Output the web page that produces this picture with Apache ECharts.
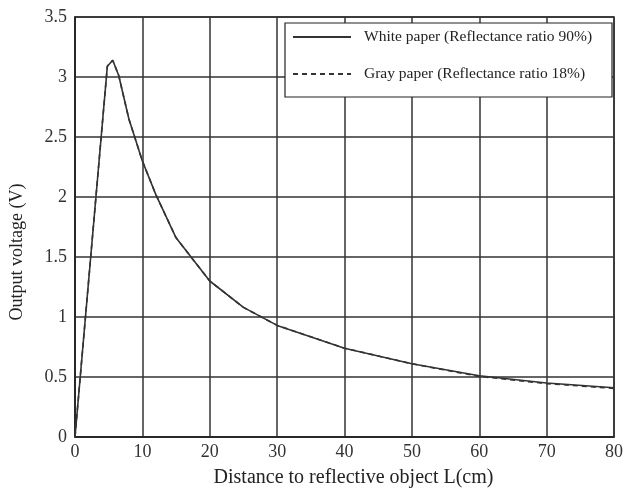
<!DOCTYPE html>
<html>
<head>
<meta charset="utf-8">
<script src="https://cdn.jsdelivr.net/npm/echarts@6/dist/echarts.min.js"></script>
<style>html,body{margin:0;padding:0;background:#fff;}#c{width:626px;height:493px;}</style>
</head>
<body>
<div id="c"></div>
<script>
const distance = [0, 4.8, 5.6, 6.5, 8, 10, 12, 15, 20, 25, 30, 40, 50, 60, 70, 80];
const whitePaper = [0, 3.09, 3.14, 3.01, 2.65, 2.3, 2.02, 1.66, 1.3, 1.08, 0.93, 0.74, 0.61, 0.51, 0.45, 0.41];
const grayPaper  = [0, 3.09, 3.14, 3.01, 2.65, 2.3, 2.02, 1.66, 1.3, 1.08, 0.93, 0.74, 0.61, 0.505, 0.445, 0.405];
const seriesNames = ['White paper (Reflectance ratio 90%)', 'Gray paper (Reflectance ratio 18%)'];
const xTicks = [0, 10, 20, 30, 40, 50, 60, 70, 80];
const yTicks = [0, 0.5, 1, 1.5, 2, 2.5, 3, 3.5];
const xTitle = 'Distance to reflective object L(cm)';
const yTitle = 'Output voltage (V)';

const font = 'Liberation Serif';
const chart = echarts.init(document.getElementById('c'), null, {renderer: 'canvas'});
chart.setOption({
  animation: false,
  backgroundColor: '#fff',
  color: ['#333', '#333'],
  grid: {left: 75, right: 8, top: 17, bottom: 52, show: true, borderColor: '#222', borderWidth: 1.5, backgroundColor: 'transparent'},
  xAxis: {
    type: 'value', min: xTicks[0], max: xTicks[xTicks.length - 1], interval: 10,
    name: xTitle, nameLocation: 'middle', nameGap: 31,
    nameTextStyle: {fontFamily: font, fontSize: 20, color: '#222', padding: [0, 0, 0, 18]},
    axisLine: {show: true, lineStyle: {color: '#222', width: 1.5}},
    axisTick: {show: false},
    axisLabel: {fontFamily: font, fontSize: 18, color: '#333', margin: 6},
    splitLine: {show: true, lineStyle: {color: '#333', width: 1.5}}
  },
  yAxis: {
    type: 'value', min: yTicks[0], max: yTicks[yTicks.length - 1], interval: 0.5,
    axisLine: {show: true, lineStyle: {color: '#222', width: 1.5}},
    axisTick: {show: false},
    axisLabel: {fontFamily: font, fontSize: 18, color: '#333', margin: 8},
    splitLine: {show: true, lineStyle: {color: '#333', width: 1.5}}
  },
  graphic: [{
    type: 'rect', z: 3,
    shape: {x: 285, y: 23, width: 327, height: 74},
    style: {fill: '#fff', stroke: '#222', lineWidth: 1.2}
  }, {
    type: 'text', z: 3, x: 17, y: 252, rotation: Math.PI / 2,
    style: {text: yTitle, fontFamily: font, fontSize: 18, fill: '#222', align: 'center', verticalAlign: 'middle'}
  }],
  legend: {
    orient: 'vertical', left: 285, top: 23,
    padding: [6, 10, 10, 7],
    itemWidth: 58, itemHeight: 14, itemGap: 21,
    itemStyle: {opacity: 0},
    textStyle: {fontFamily: font, fontSize: 15.5, color: '#222', padding: [0, 0, 0, 8]},
    data: seriesNames
  },
  series: [
    {
      name: seriesNames[0], type: 'line', symbol: 'none', z: 2,
      data: distance.map((d, i) => [d, whitePaper[i]]),
      lineStyle: {color: '#333', width: 1.6, type: 'solid'}
    },
    {
      name: seriesNames[1], type: 'line', symbol: 'none', z: 2,
      data: distance.map((d, i) => [d, grayPaper[i]]),
      lineStyle: {color: '#333', width: 1.6, type: [5, 4]}
    }
  ]
});
</script>
</body>
</html>
